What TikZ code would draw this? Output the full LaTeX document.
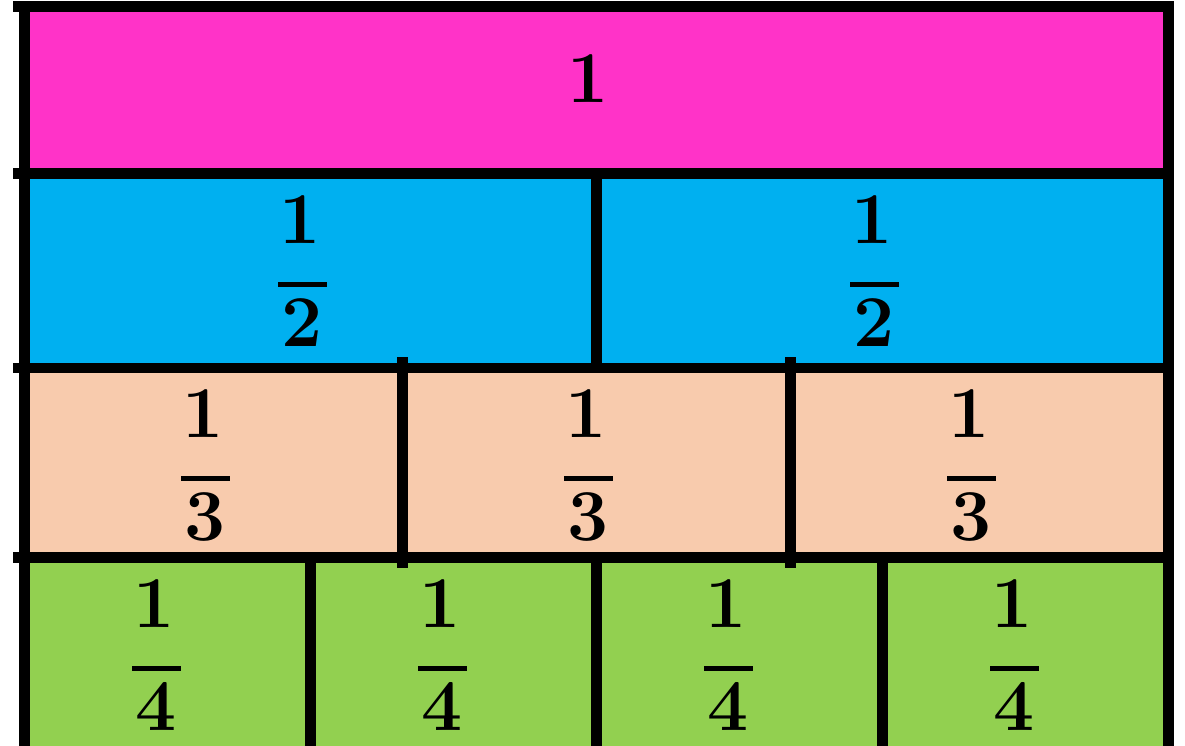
\documentclass[tikz,border=0pt]{standalone}
\definecolor{cpink}{HTML}{FF33C8}
\definecolor{cblue}{HTML}{00B0F0}
\definecolor{cpeach}{HTML}{F8CBAD}
\definecolor{cgreen}{HTML}{92D050}
\tikzset{
  digit/.style={inner sep=0pt, anchor=base, font=\fontsize{73}{73}\selectfont\bfseries},
  rule/.style={fill=black, draw=none},
}
% fraction macro: name, x center, row top y, denominator
\newcommand{\myfrac}[4]{%
  \node[digit] (#1n) at (#2-2, #3+64) {1};
  \fill[black] (#2-24.5, #3+103) rectangle (#2+24.5, #3+108);
  \node[digit] (#1d) at (#2, #3+167) {#4};
}
\begin{document}
\begin{tikzpicture}[x=1pt, y=-1pt]
\useasboundingbox (0,0) rectangle (1185,746);
\fill[white] (0,0) rectangle (1185,746);
% row fills
\fill[cpink]  (30,12)  rectangle (1163,168);
\fill[cblue]  (30,179) rectangle (1163,363);
\fill[cpeach] (30,373) rectangle (1163,552);
\fill[cgreen] (30,563) rectangle (1163,746);
% outer verticals
\fill[rule] (19,1) rectangle (30,746);
\fill[rule] (1163,1) rectangle (1174,746);
% horizontals
\fill[rule] (13,1) rectangle (1174,12);
\fill[rule] (13,168) rectangle (1174,179);
\fill[rule] (13,363) rectangle (1174,373);
\fill[rule] (13,552) rectangle (1174,563);
% dividers
\fill[rule] (591,179) rectangle (602,363);
\fill[rule] (397,357) rectangle (408,568);
\fill[rule] (785,357) rectangle (796,568);
\fill[rule] (305,563) rectangle (316,746);
\fill[rule] (591,563) rectangle (602,746);
\fill[rule] (877,563) rectangle (888,746);
% labels
\node[digit] (one) at (588,103) {1};
\myfrac{ha}{302.5}{179}{2}
\myfrac{hb}{874.5}{179}{2}
\myfrac{ta}{205.5}{373}{3}
\myfrac{tb}{588.5}{373}{3}
\myfrac{tc}{971.5}{373}{3}
\myfrac{qa}{156.5}{563}{4}
\myfrac{qb}{442.5}{563}{4}
\myfrac{qc}{728.5}{563}{4}
\myfrac{qd}{1014.5}{563}{4}
\end{tikzpicture}
\end{document}
